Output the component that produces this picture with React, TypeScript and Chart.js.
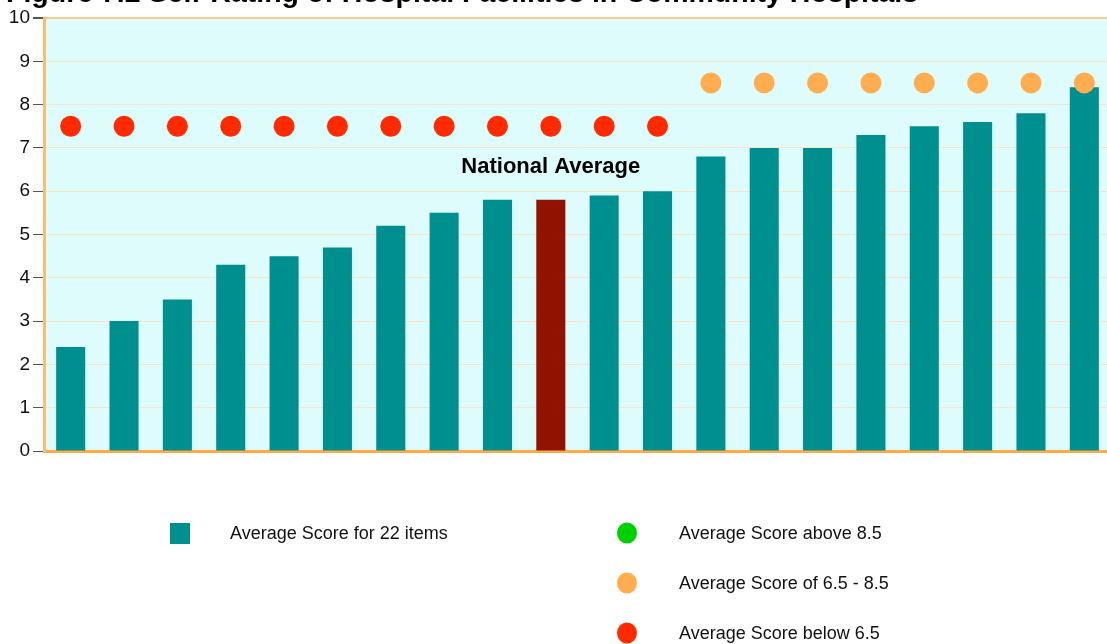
import React, { useEffect, useRef } from "react";
import { Chart, registerables } from "chart.js";

Chart.register(...registerables);

const TITLE = "Figure 7.2 Self-Rating of Hospital Facilities in Community Hospitals";
const categories = ["1","2","3","4","5","6","7","8","9","National Average","11","12","13","14","15","16","17","18","19","20"];
const avgScores = [2.4, 3.0, 3.5, 4.3, 4.5, 4.7, 5.2, 5.5, 5.8, 5.8, 5.9, 6.0, 6.8, 7.0, 7.0, 7.3, 7.5, 7.6, 7.8, 8.4];
const redDots = [7.5, 7.5, 7.5, 7.5, 7.5, 7.5, 7.5, 7.5, 7.5, 7.5, 7.5, 7.5, null, null, null, null, null, null, null, null];
const orangeDots = [null, null, null, null, null, null, null, null, null, null, null, null, 8.5, 8.5, 8.5, 8.5, 8.5, 8.5, 8.5, 8.5];
const greenDots: (number | null)[] = categories.map(() => null);
const yTicks = [0, 1, 2, 3, 4, 5, 6, 7, 8, 9, 10];
const nationalIndex = 9;
const nationalLabel = "National Average";
const nationalLabelValue = 6.55;

const TEAL = "#008f8f";
const DARKRED = "#921200";
const RED = "#ff2a00";
const ORANGE = "#ffad4f";
const GREEN = "#00d000";
const FONT = "'Liberation Sans', Arial, sans-serif";

const legendItems = [
  { label: "Average Score for 22 items", color: TEAL, shape: "square", col: 0, row: 0 },
  { label: "Average Score above 8.5", color: GREEN, shape: "circle", col: 1, row: 0 },
  { label: "Average Score of 6.5 - 8.5", color: ORANGE, shape: "circle", col: 1, row: 1 },
  { label: "Average Score below 6.5", color: RED, shape: "circle", col: 1, row: 2 },
];

export default function App() {
  const ref = useRef<HTMLCanvasElement | null>(null);
  useEffect(() => {
    if (!ref.current) return;
    const bgPlugin = {
      id: "bgPlugin",
      beforeDraw(chart: any) {
        const { ctx, chartArea } = chart;
        ctx.save();
        ctx.fillStyle = "#dffcfd";
        ctx.fillRect(chartArea.left, chartArea.top, chartArea.right - chartArea.left, chartArea.bottom - chartArea.top);
        ctx.restore();
      },
      afterDraw(chart: any) {
        const { ctx } = chart;
        const xs = chart.scales.x;
        const ys = chart.scales.y;
        ctx.save();
        // title (cut off at top)
        ctx.fillStyle = "#000";
        ctx.font = `bold 28.5px ${FONT}`;
        ctx.textAlign = "left";
        ctx.textBaseline = "alphabetic";
        ctx.fillText(TITLE, 6, 1.5);
        // national average label
        ctx.font = `bold 22px ${FONT}`;
        ctx.textAlign = "center";
        ctx.textBaseline = "middle";
        ctx.fillText(nationalLabel, xs.getPixelForValue(nationalIndex), ys.getPixelForValue(nationalLabelValue));
        // legend
        ctx.font = `18px ${FONT}`;
        ctx.textAlign = "left";
        for (const it of legendItems) {
          const cy = 533 + it.row * 50;
          const cx = it.col === 0 ? 180 : 627;
          const tx = it.col === 0 ? 230 : 679;
          ctx.fillStyle = it.color;
          if (it.shape === "square") {
            ctx.fillRect(cx - 10, cy - 10, 20, 21);
          } else {
            ctx.beginPath();
            ctx.ellipse(cx, cy, 10, 10.5, 0, 0, Math.PI * 2);
            ctx.fill();
          }
          ctx.fillStyle = "#111";
          ctx.fillText(it.label, tx, cy + 1);
        }
        ctx.restore();
      },
    };
    const chart = new Chart(ref.current, {
      type: "bar",
      data: {
        labels: categories,
        datasets: [
          {
            type: "line",
            label: "Average Score below 6.5",
            data: redDots,
            showLine: false,
            pointRadius: 10.5,
            pointBackgroundColor: RED,
            pointBorderWidth: 0,
            borderColor: RED,
            clip: false,
            order: 0,
          } as any,
          {
            type: "line",
            label: "Average Score of 6.5 - 8.5",
            data: orangeDots,
            showLine: false,
            pointRadius: 10.5,
            pointBackgroundColor: ORANGE,
            pointBorderWidth: 0,
            borderColor: ORANGE,
            clip: false,
            order: 0,
          } as any,
          {
            type: "line",
            label: "Average Score above 8.5",
            data: greenDots,
            showLine: false,
            pointRadius: 10.5,
            pointBackgroundColor: GREEN,
            pointBorderWidth: 0,
            borderColor: GREEN,
            order: 0,
          } as any,
          {
            type: "bar",
            label: "Average Score for 22 items",
            data: avgScores,
            backgroundColor: avgScores.map((_, i) => (i === nationalIndex ? DARKRED : TEAL)),
            barPercentage: 0.545,
            categoryPercentage: 1,
            order: 1,
          },
        ],
      },
      options: {
        responsive: false,
        animation: false,
        layout: { autoPadding: false, padding: { left: 0, right: 0, top: 18, bottom: 193 } },
        plugins: {
          legend: { display: false },
          tooltip: { enabled: false },
          title: { display: false },
        },
        scales: {
          x: {
            offset: true,
            ticks: { display: false },
            grid: { display: false, drawTicks: false },
            border: { display: true, color: "#ffaa44", width: 3 },
            afterFit: (s: any) => { s.height = 0; },
          },
          y: {
            min: 0,
            max: 10,
            afterBuildTicks: (s: any) => { s.ticks = yTicks.map((v) => ({ value: v })); },
            ticks: {
              stepSize: 1,
              color: "#111",
              font: { family: FONT, size: 19 },
              padding: 3,
            },
            grid: {
              color: (c: any) => (c.tick && c.tick.value === 10 ? "#ffc98a" : "#fde2c2"),
              lineWidth: (c: any) => (c.tick && c.tick.value === 10 ? 2 : 1),
              tickColor: "#555",
              tickLength: 11,
              drawTicks: true,
            },
            border: { display: true, color: "#ffbb70", width: 3 },
            afterFit: (s: any) => { s.width = 44; },
          },
        },
      },
      plugins: [bgPlugin],
    });
    return () => chart.destroy();
  }, []);
  return (
    <div style={{ position: "absolute", left: 0, top: 0, width: 1107, height: 644, overflow: "hidden" }}>
      <canvas ref={ref} width={1111} height={644} style={{ display: "block" }} />
    </div>
  );
}
